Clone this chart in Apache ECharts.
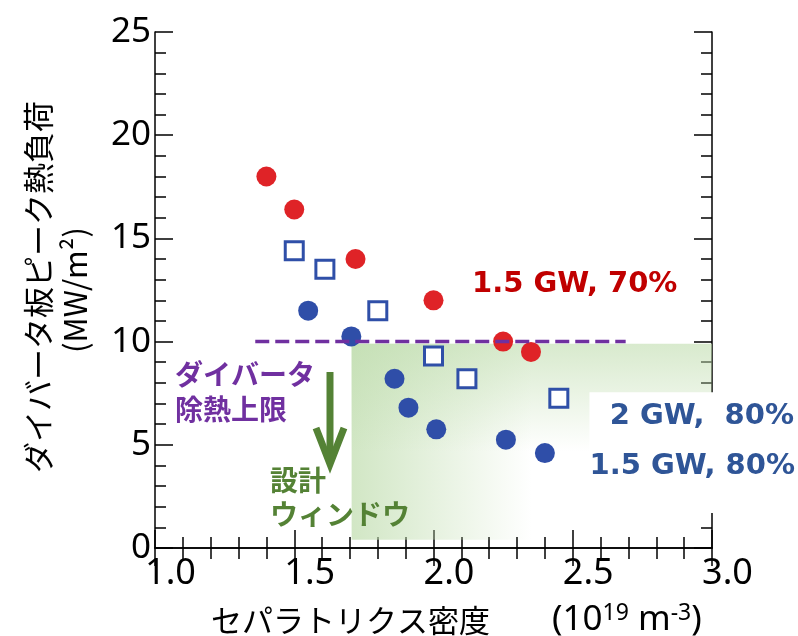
<!DOCTYPE html>
<html><head><meta charset="utf-8">
<script src="https://cdn.jsdelivr.net/npm/echarts@6/dist/echarts.min.js"></script>
<style>html,body{margin:0;padding:0;background:#fff}#c{width:798px;height:636px}</style>
</head><body><div id="c"></div>
<script>
// ---- data ----
const red70X = [1.40, 1.50, 1.72, 2.00, 2.25, 2.35];
const red70Y = [18.0, 16.4, 14.0, 12.0, 10.0, 9.5];
const sq2GWX = [1.50, 1.61, 1.80, 2.00, 2.12, 2.45];
const sq2GWY = [14.4, 13.5, 11.5, 9.3, 8.2, 7.25];
const blue80X = [1.55, 1.705, 1.86, 1.91, 2.01, 2.26, 2.40];
const blue80Y = [11.5, 10.25, 8.2, 6.8, 5.75, 5.25, 4.6];
const limitX = [1.36, 2.69];
const limitY = [10, 10];
const windowRect = [1.706, 0.4, 3.0, 9.9];   // x0, y0, x1, y1
const labelBox = [2.56, 1.7, 3.3, 7.55];
const xTickLabels = ['1.0', '1.5', '2.0', '2.5', '3.0'];
const yTickLabels = ['0', '5', '10', '15', '20', '25'];

const zip = (xs, ys) => xs.map((x, i) => [x, ys[i]]);
const CJK = '"Noto Sans CJK JP", sans-serif';
const NUM = '"Noto Sans", "Liberation Sans", sans-serif';
const BOLD = 'bold 29px "DejaVu Sans", Verdana, sans-serif';

const chart = echarts.init(document.getElementById('c'), null, {renderer: 'canvas'});

const axisCommon = {
  axisLine: {show: true, lineStyle: {color: '#000', width: 1.5}},
  axisTick: {show: true, inside: true, length: 18, lineStyle: {color: '#000', width: 1.5}},
  minorTick: {show: true, splitNumber: 5, length: 11, lineStyle: {color: '#000', width: 1.5}},
  splitLine: {show: false},
  minorSplitLine: {show: false}
};

const rectSeries = (data, kind) => ({
  type: 'custom',
  coordinateSystem: 'cartesian2d',
  xAxisIndex: 0, yAxisIndex: 0,
  z: kind === 'box' ? 5 : 1,
  silent: true,
  clip: false,
  data: [data],
  renderItem: (params, api) => {
    const p0 = api.coord([api.value(0), api.value(3)]);
    const p1 = api.coord([api.value(2), api.value(1)]);
    const shape = {x: p0[0], y: p0[1], width: p1[0] - p0[0], height: p1[1] - p0[1]};
    if (kind === 'box') {
      return {type: 'rect', shape, style: {fill: '#fff'}};
    }
    return {type: 'group', children: [
      {type: 'rect', shape, style: {fill: new echarts.graphic.LinearGradient(0, 0, 1, 0, [
        {offset: 0, color: 'rgba(190,220,172,0.7)'},
        {offset: 0.5, color: 'rgba(190,220,172,0)'},
        {offset: 1, color: 'rgba(190,220,172,0)'}])}},
      {type: 'rect', shape, style: {fill: new echarts.graphic.LinearGradient(0, 0, 0, 1, [
        {offset: 0, color: 'rgba(190,220,172,0.6)'},
        {offset: 0.55, color: 'rgba(190,220,172,0)'},
        {offset: 1, color: 'rgba(190,220,172,0)'}])}}
    ]};
  }
});

const option = {
  backgroundColor: '#fff',
  animation: false,
  grid: {left: 155, right: 86, top: 32, bottom: 88},
  xAxis: [
    Object.assign({type: 'value', min: 1, max: 3, interval: 0.5, position: 'bottom',
      axisLabel: {show: true, fontSize: 36, fontFamily: NUM, color: '#000', margin: 8,
        padding: [0, 0, 0, 31],
        formatter: v => xTickLabels[Math.round((v - 1) / 0.5)]}}, axisCommon),
    Object.assign({type: 'value', min: 1, max: 3, interval: 0.5, position: 'top',
      axisLabel: {show: false}}, axisCommon)
  ],
  yAxis: [
    Object.assign({type: 'value', min: 0, max: 25, interval: 5, position: 'left',
      axisLabel: {show: true, fontSize: 35, fontFamily: NUM, color: '#000', margin: 4,
        formatter: v => yTickLabels[Math.round(v / 5)]}}, axisCommon),
    Object.assign({type: 'value', min: 0, max: 25, interval: 5, position: 'right',
      axisLabel: {show: false}}, axisCommon)
  ],
  series: [
    rectSeries(windowRect, 'green'),
    {
      type: 'scatter', name: '1.5 GW, 70%', data: zip(red70X, red70Y), z: 3,
      symbol: 'circle', symbolSize: 20, itemStyle: {color: '#df2327', opacity: 1}
    },
    {
      type: 'scatter', name: '2 GW, 80%', data: zip(sq2GWX, sq2GWY), z: 3,
      symbol: 'rect', symbolSize: 18,
      itemStyle: {color: '#fff', borderColor: '#2f4fa8', borderWidth: 3, opacity: 1}
    },
    {
      type: 'scatter', name: '1.5 GW, 80%', data: zip(blue80X, blue80Y), z: 3,
      symbol: 'circle', symbolSize: 20, itemStyle: {color: '#2f4ea8', opacity: 1}
    },
    {
      type: 'line', data: zip(limitX, limitY), z: 4, symbol: 'none',
      lineStyle: {color: '#7030a0', width: 3.5, type: [14, 6]}
    },
    rectSeries(labelBox, 'box')
  ],
  graphic: [
    {type: 'text', x: 38, y: 287, rotation: Math.PI / 2, z: 100,
      style: {text: 'ダイバータ板ピーク熱負荷', font: '31px ' + CJK, fill: '#000', align: 'center', verticalAlign: 'middle'}},
    {type: 'text', x: 75, y: 290, rotation: Math.PI / 2, z: 100,
      style: {text: '(MW/m²)', font: '31px ' + CJK, fill: '#000', align: 'center', verticalAlign: 'middle'}},
    {type: 'text', x: 211, y: 620, z: 100,
      style: {text: 'セパラトリクス密度', font: '31px ' + CJK, fill: '#000', align: 'left', verticalAlign: 'middle'}},
    {type: 'text', x: 552, y: 620, z: 100,
      style: {text: '(10{s|19} m{s|-3})', font: '35px ' + NUM, fill: '#000', align: 'left', verticalAlign: 'middle',
        rich: {s: {fontSize: 23, fontFamily: NUM, verticalAlign: 'top', padding: [0, 0, 14, 0], fill: '#000'}}}},
    {type: 'text', x: 472, y: 284, z: 100,
      style: {text: '1.5 GW, 70%', font: BOLD, fill: '#c00000', align: 'left', verticalAlign: 'middle'}},
    {type: 'text', x: 794, y: 416, z: 100,
      style: {text: '2 GW,  80%', font: BOLD, fill: '#2f5597', align: 'right', verticalAlign: 'middle'}},
    {type: 'text', x: 795, y: 466, z: 100,
      style: {text: '1.5 GW, 80%', font: BOLD, fill: '#2f5597', align: 'right', verticalAlign: 'middle'}},
    {type: 'text', x: 175, y: 374, z: 100,
      style: {text: 'ダイバータ', font: 'bold 28px ' + CJK, fill: '#7030a0', align: 'left', verticalAlign: 'middle'}},
    {type: 'text', x: 175, y: 409, z: 100,
      style: {text: '除熱上限', font: 'bold 28px ' + CJK, fill: '#7030a0', align: 'left', verticalAlign: 'middle'}},
    {type: 'text', x: 270, y: 480, z: 100,
      style: {text: '設計', font: 'bold 28px ' + CJK, fill: '#548235', align: 'left', verticalAlign: 'middle'}},
    {type: 'text', x: 270, y: 514, z: 100,
      style: {text: 'ウィンドウ', font: 'bold 28px ' + CJK, fill: '#548235', align: 'left', verticalAlign: 'middle'}},
    {type: 'polyline', z: 100, shape: {points: [[330, 372], [330, 462]]},
      style: {stroke: '#548235', lineWidth: 7, fill: null}},
    {type: 'polyline', z: 100, shape: {points: [[316, 428], [330, 464], [344, 428]]},
      style: {stroke: '#548235', lineWidth: 7, fill: null, lineJoin: 'miter'}}
  ]
};
chart.setOption(option);
</script>
</body></html>
